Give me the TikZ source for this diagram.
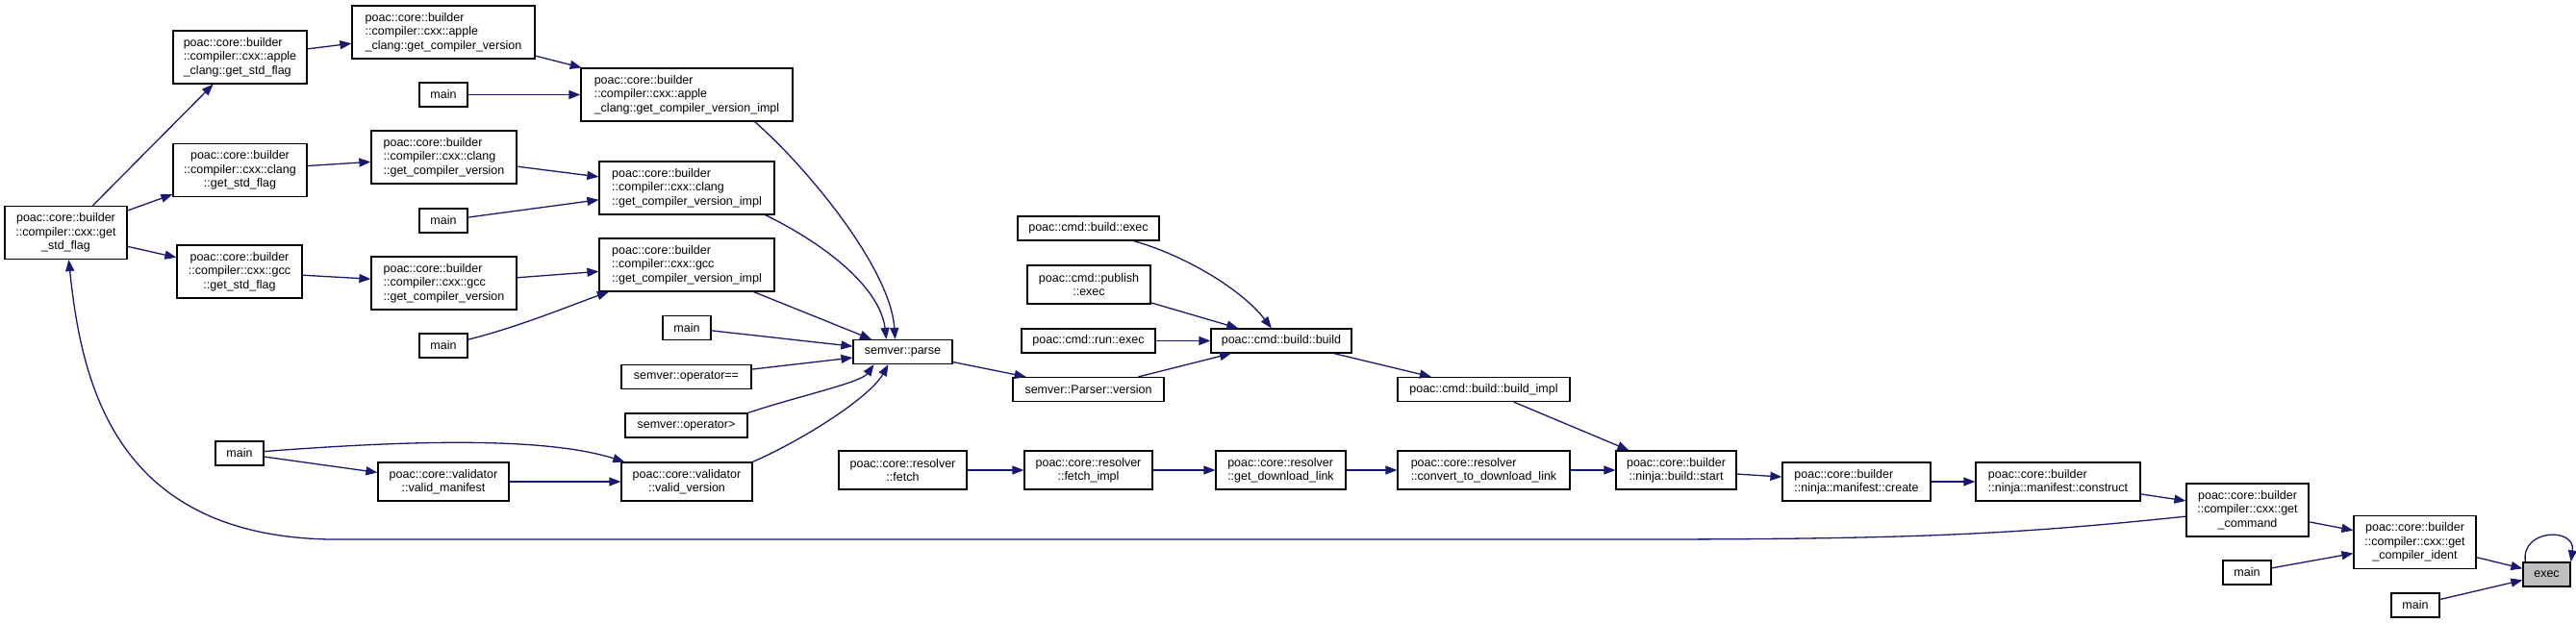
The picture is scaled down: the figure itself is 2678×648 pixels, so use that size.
\documentclass[tikz,border=0pt]{standalone}
\usepackage{fontspec}
\setmainfont{Liberation Sans}
\usetikzlibrary{arrows.meta}
\definecolor{edgeblue}{HTML}{191970}
\definecolor{execgray}{HTML}{BFBFBF}
\begin{document}
\begin{tikzpicture}[x=1pt,y=-1pt,
  box/.style={draw=black, line width=1.2pt, fill=white, inner sep=0pt, align=center,
    font=\fontsize{12.5}{14.3}\selectfont},
  bA/.style={box, minimum height=25pt},
  bB/.style={box, minimum height=40pt},
  bC/.style={box, minimum height=55pt},
  L/.style={align=left},
  w/.style={minimum width=#1pt},
  edge/.style={draw=edgeblue, line width=1.3pt, -{Triangle[length=12pt,width=9pt]}}]
\useasboundingbox (0,0) rectangle (2678,648);
\fill[white] (0,0) rectangle (2678,648);

% column 1-2
\node[bC,w=127] (gsf) at (68.5,242) {poac::core::builder\\::compiler::cxx::get\\\_std\_flag};
\node[bC,w=139,L] (agsf) at (249.5,59.5) {poac::core::builder\\::compiler::cxx::apple\\\_clang::get\_std\_flag};
\node[bC,w=139] (cgsf) at (249.5,177) {poac::core::builder\\::compiler::cxx::clang\\::get\_std\_flag};
\node[bC,w=130] (ggsf) at (249,282.5) {poac::core::builder\\::compiler::cxx::gcc\\::get\_std\_flag};
\node[bA,w=50] (mainV) at (249,471.5) {main};

% column 3
\node[bC,w=190,L] (agcv) at (461,33.5) {poac::core::builder\\::compiler::cxx::apple\\\_clang::get\_compiler\_version};
\node[bA,w=50] (mainA) at (461,98.5) {main};
\node[bC,w=151,L] (cgcv) at (461.5,163.5) {poac::core::builder\\::compiler::cxx::clang\\::get\_compiler\_version};
\node[bA,w=50] (mainB) at (461,229.5) {main};
\node[bC,w=151,L] (ggcv) at (461.5,294.5) {poac::core::builder\\::compiler::cxx::gcc\\::get\_compiler\_version};
\node[bA,w=50] (mainC) at (461,359.5) {main};
\node[bB,w=136] (vman) at (461,501) {poac::core::validator\\::valid\_manifest};

% column 4
\node[bC,w=220,L] (aimpl) at (714,98.5) {poac::core::builder\\::compiler::cxx::apple\\\_clang::get\_compiler\_version\_impl};
\node[bC,w=182,L] (cimpl) at (714,195.5) {poac::core::builder\\::compiler::cxx::clang\\::get\_compiler\_version\_impl};
\node[bC,w=182,L] (gimpl) at (714,275.5) {poac::core::builder\\::compiler::cxx::gcc\\::get\_compiler\_version\_impl};
\node[bA,w=50] (mainD) at (714,341) {main};
\node[bA,w=135] (opeq) at (713.5,392) {semver::operator==};
\node[bA,w=127] (opgt) at (713.5,442.5) {semver::operator>};
\node[bB,w=136] (vver) at (714,501) {poac::core::validator\\::valid\_version};

% column 5
\node[bA,w=103] (parse) at (938.5,366) {semver::parse};
\node[bB,w=133] (rfetch) at (938.5,489) {poac::core::resolver\\::fetch};

% column 6
\node[bA,w=147] (bexec) at (1131.5,237.5) {poac::cmd::build::exec};
\node[bB,w=128] (pexec) at (1132,296) {poac::cmd::publish\\::exec};
\node[bA,w=139] (rexec) at (1131.5,354.5) {poac::cmd::run::exec};
\node[bA,w=157] (pver) at (1131.5,405) {semver::Parser::version};
\node[bB,w=133] (rfimpl) at (1131.5,489) {poac::core::resolver\\::fetch\_impl};

% column 7
\node[bA,w=146] (bbuild) at (1332,354.5) {poac::cmd::build::build};
\node[bB,w=135,L] (rgdl) at (1331.5,489) {poac::core::resolver\\::get\_download\_link};

% column 8
\node[bA,w=179] (bimpl) at (1542.5,405) {poac::cmd::build::build\_impl};
\node[bB,w=179,L] (rconv) at (1542.5,489) {poac::core::resolver\\::convert\_to\_download\_link};

% right part
\node[bB,w=125] (bstart) at (1742.5,489) {poac::core::builder\\::ninja::build::start};
\node[bB,w=154,L] (mcreate) at (1930,501) {poac::core::builder\\::ninja::manifest::create};
\node[bB,w=171,L] (mconst) at (2139.5,501) {poac::core::builder\\::ninja::manifest::construct};
\node[bC,w=127] (gcmd) at (2336.5,530.5) {poac::core::builder\\::compiler::cxx::get\\\_command};
\node[bA,w=50] (mainE) at (2336,595.5) {main};
\node[bC,w=127] (gident) at (2510.5,564) {poac::core::builder\\::compiler::cxx::get\\\_compiler\_ident};
\node[bA,w=50] (mainF) at (2511,629.5) {main};
\node[bA,w=49,fill=execgray] (exec) at (2647.5,597.5) {exec};

% edges
\draw[edge] (gsf) -- (agsf);
\draw[edge] (gsf) -- (cgsf);
\draw[edge] (gsf) -- (ggsf);
\draw[edge] (agsf) -- (agcv);
\draw[edge] (cgsf) -- (cgcv);
\draw[edge] (ggsf) -- (ggcv);
\draw[edge] (agcv) -- (aimpl);
\draw[edge] (mainA) -- (aimpl);
\draw[edge] (cgcv) -- (cimpl);
\draw[edge] (mainB) -- (cimpl);
\draw[edge] (ggcv) -- (gimpl);
\draw[edge] (mainC) .. controls (540,340) and (600,315) .. (gimpl);

\draw[edge] ([xshift=-40pt]aimpl.south east) .. controls (840,175) and (926,280) .. ([xshift=-8pt]parse.north);
\draw[edge] ([xshift=-10pt]cimpl.south east) .. controls (860,255) and (915,300) .. ([xshift=-17pt]parse.north);
\draw[edge] (gimpl) -- (parse);
\draw[edge] (mainD) -- (parse);
\draw[edge] (opeq) -- (parse);
\draw[edge] (opgt.north east) .. controls (830,412) and (895,398) .. ([xshift=-30pt]parse.south);
\draw[edge] (vver.north east) .. controls (840,455) and (905,412) .. ([xshift=-15pt]parse.south);

\draw[edge] (mainV) -- (vman);
\draw[edge] (mainV) .. controls (400,460) and (560,452) .. (vver);
\draw[edge] (vman) -- (vver);

\draw[edge] (parse) -- (pver);
\draw[edge] (pver) -- (bbuild);
\draw[edge] (bexec) .. controls (1230,265) and (1290,300) .. (bbuild);
\draw[edge] (pexec) -- (bbuild);
\draw[edge] (rexec) -- (bbuild);
\draw[edge] (bbuild) -- (bimpl);
\draw[edge] (bimpl) -- (bstart);

\draw[edge] (rfetch) -- (rfimpl);
\draw[edge] (rfimpl) -- (rgdl);
\draw[edge] (rgdl) -- (rconv);
\draw[edge] (rconv) -- (bstart);

\draw[edge] (bstart) -- (mcreate);
\draw[edge] (mcreate) -- (mconst);
\draw[edge] (mconst) -- (gcmd);
\draw[edge] (gcmd) -- (gident);
\draw[edge] (mainE) -- (gident);
\draw[edge] (gident) -- (exec);
\draw[edge] (mainF) -- (exec);
\draw[edge] ([xshift=3pt]exec.north west) .. controls (2620,550) and (2678,548) .. (exec.north east);

\draw[edge] (gcmd) .. controls (2100,555) and (2000,561) .. (1700,561) -- (360,561) .. controls (120,565) and (85,400) .. (gsf);
\end{tikzpicture}
\end{document}
